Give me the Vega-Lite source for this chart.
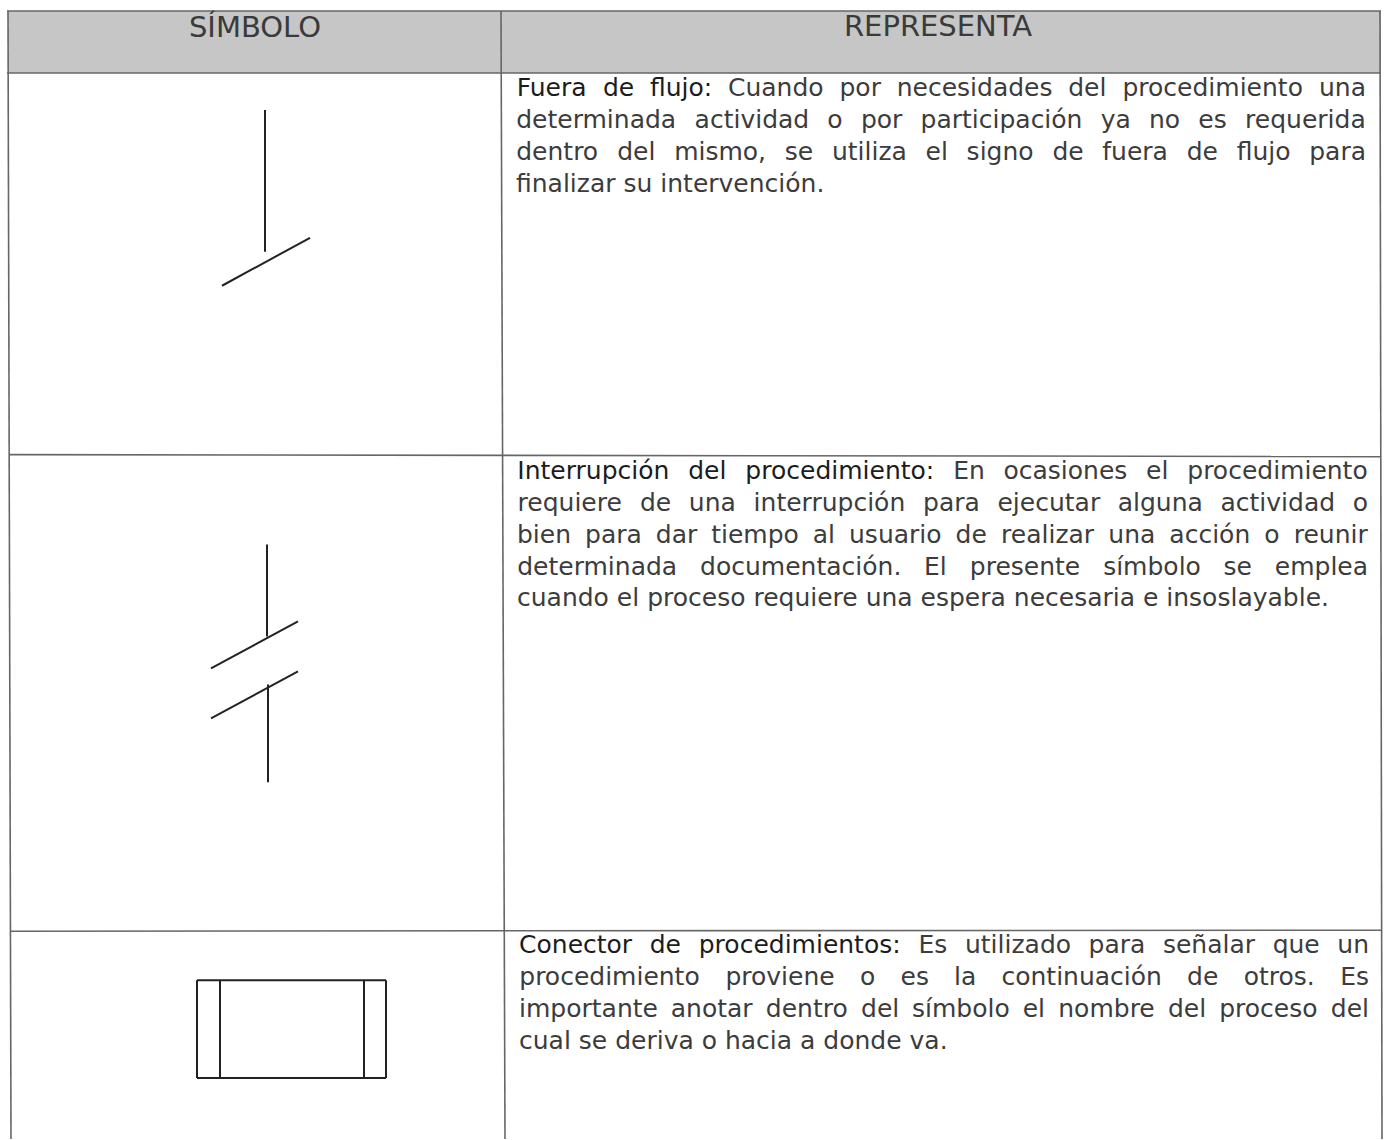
{
  "$schema": "https://vega.github.io/schema/vega-lite/v6.json",
  "width": 1390,
  "height": 1140,
  "autosize": {"type": "fit", "contains": "padding"},
  "padding": 0,
  "background": "white",
  "config": {"view": {"stroke": null}},
  "datasets": {
    "header": [{"x": 8, "x2": 1381, "y": 11, "y2": 73}],
    "grid": [
      {"x": 7, "y": 11, "x2": 1381, "y2": 11},
      {"x": 7, "y": 73, "x2": 1381, "y2": 73},
      {"x": 9, "y": 455, "x2": 1381, "y2": 457},
      {"x": 10, "y": 932, "x2": 1382, "y2": 931},
      {"x": 8, "y": 11, "x2": 11, "y2": 1140},
      {"x": 1380, "y": 11, "x2": 1382, "y2": 1140},
      {"x": 501, "y": 11, "x2": 505, "y2": 1140}
    ],
    "symbols": [
      {"x": 265, "y": 110, "x2": 265, "y2": 252},
      {"x": 222, "y": 286, "x2": 310, "y2": 238},
      {"x": 267, "y": 545, "x2": 267, "y2": 637},
      {"x": 211, "y": 669, "x2": 298, "y2": 622},
      {"x": 211, "y": 719, "x2": 298, "y2": 672},
      {"x": 268, "y": 685, "x2": 268, "y2": 783},
      {"x": 197, "y": 981, "x2": 386, "y2": 981},
      {"x": 197, "y": 1079, "x2": 386, "y2": 1079},
      {"x": 197, "y": 981, "x2": 197, "y2": 1079},
      {"x": 386, "y": 981, "x2": 386, "y2": 1079},
      {"x": 220, "y": 981, "x2": 220, "y2": 1079},
      {"x": 364, "y": 981, "x2": 364, "y2": 1079}
    ],
    "headings": [
      {"x": 255, "y": 28, "t": "SÍMBOLO"},
      {"x": 938, "y": 27, "t": "REPRESENTA"}
    ],
    "words": [
      {"x": 551.6, "y": 88, "t": "Fuera", "role": "label"},
      {"x": 618.6, "y": 88, "t": "de", "role": "label"},
      {"x": 681.1, "y": 88, "t": "flujo:", "role": "label"},
      {"x": 775.8, "y": 88, "t": "Cuando", "role": "body"},
      {"x": 860.2, "y": 88, "t": "por", "role": "body"},
      {"x": 974.6, "y": 88, "t": "necesidades", "role": "body"},
      {"x": 1087.3, "y": 88, "t": "del", "role": "body"},
      {"x": 1212.7, "y": 88, "t": "procedimiento", "role": "body"},
      {"x": 1342.5, "y": 88, "t": "una", "role": "body"},
      {"x": 596.2, "y": 120, "t": "determinada", "role": "body"},
      {"x": 751.9, "y": 120, "t": "actividad", "role": "body"},
      {"x": 835.0, "y": 120, "t": "o", "role": "body"},
      {"x": 881.6, "y": 120, "t": "por", "role": "body"},
      {"x": 1001.5, "y": 120, "t": "participación", "role": "body"},
      {"x": 1115.7, "y": 120, "t": "ya", "role": "body"},
      {"x": 1164.5, "y": 120, "t": "no", "role": "body"},
      {"x": 1212.5, "y": 120, "t": "es", "role": "body"},
      {"x": 1305.4, "y": 120, "t": "requerida", "role": "body"},
      {"x": 557.2, "y": 152, "t": "dentro", "role": "body"},
      {"x": 636.3, "y": 152, "t": "del", "role": "body"},
      {"x": 720.1, "y": 152, "t": "mismo,", "role": "body"},
      {"x": 799.0, "y": 152, "t": "se", "role": "body"},
      {"x": 869.4, "y": 152, "t": "utiliza", "role": "body"},
      {"x": 936.7, "y": 152, "t": "el", "role": "body"},
      {"x": 1000.1, "y": 152, "t": "signo", "role": "body"},
      {"x": 1068.0, "y": 152, "t": "de", "role": "body"},
      {"x": 1135.1, "y": 152, "t": "fuera", "role": "body"},
      {"x": 1202.3, "y": 152, "t": "de", "role": "body"},
      {"x": 1263.6, "y": 152, "t": "flujo", "role": "body"},
      {"x": 1337.6, "y": 152, "t": "para", "role": "body"},
      {"x": 593.3, "y": 471, "t": "Interrupción", "role": "label"},
      {"x": 707.3, "y": 471, "t": "del", "role": "label"},
      {"x": 839.8, "y": 471, "t": "procedimiento:", "role": "label"},
      {"x": 969.0, "y": 471, "t": "En", "role": "body"},
      {"x": 1065.4, "y": 471, "t": "ocasiones", "role": "body"},
      {"x": 1157.2, "y": 471, "t": "el", "role": "body"},
      {"x": 1277.5, "y": 471, "t": "procedimiento", "role": "body"},
      {"x": 569.7, "y": 503, "t": "requiere", "role": "body"},
      {"x": 655.6, "y": 503, "t": "de", "role": "body"},
      {"x": 712.3, "y": 503, "t": "una", "role": "body"},
      {"x": 829.4, "y": 503, "t": "interrupción", "role": "body"},
      {"x": 951.5, "y": 503, "t": "para", "role": "body"},
      {"x": 1048.8, "y": 503, "t": "ejecutar", "role": "body"},
      {"x": 1160.3, "y": 503, "t": "alguna", "role": "body"},
      {"x": 1277.8, "y": 503, "t": "actividad", "role": "body"},
      {"x": 1360.4, "y": 503, "t": "o", "role": "body"},
      {"x": 544.0, "y": 535, "t": "bien", "role": "body"},
      {"x": 613.4, "y": 535, "t": "para", "role": "body"},
      {"x": 676.5, "y": 535, "t": "dar", "role": "body"},
      {"x": 755.0, "y": 535, "t": "tiempo", "role": "body"},
      {"x": 823.9, "y": 535, "t": "al", "role": "body"},
      {"x": 895.3, "y": 535, "t": "usuario", "role": "body"},
      {"x": 971.2, "y": 535, "t": "de", "role": "body"},
      {"x": 1047.6, "y": 535, "t": "realizar", "role": "body"},
      {"x": 1131.8, "y": 535, "t": "una", "role": "body"},
      {"x": 1209.8, "y": 535, "t": "acción", "role": "body"},
      {"x": 1271.8, "y": 535, "t": "o", "role": "body"},
      {"x": 1330.7, "y": 535, "t": "reunir", "role": "body"},
      {"x": 597.2, "y": 567, "t": "determinada", "role": "body"},
      {"x": 800.7, "y": 567, "t": "documentación.", "role": "body"},
      {"x": 935.4, "y": 567, "t": "El", "role": "body"},
      {"x": 1025.0, "y": 567, "t": "presente", "role": "body"},
      {"x": 1152.0, "y": 567, "t": "símbolo", "role": "body"},
      {"x": 1237.8, "y": 567, "t": "se", "role": "body"},
      {"x": 1321.4, "y": 567, "t": "emplea", "role": "body"},
      {"x": 575.6, "y": 946, "t": "Conector", "role": "label"},
      {"x": 665.3, "y": 946, "t": "de", "role": "label"},
      {"x": 799.7, "y": 946, "t": "procedimientos:", "role": "label"},
      {"x": 932.9, "y": 946, "t": "Es", "role": "body"},
      {"x": 1018.0, "y": 946, "t": "utilizado", "role": "body"},
      {"x": 1117.0, "y": 946, "t": "para", "role": "body"},
      {"x": 1209.0, "y": 946, "t": "señalar", "role": "body"},
      {"x": 1296.2, "y": 946, "t": "que", "role": "body"},
      {"x": 1353.2, "y": 946, "t": "un", "role": "body"},
      {"x": 609.5, "y": 978, "t": "procedimiento", "role": "body"},
      {"x": 780.0, "y": 978, "t": "proviene", "role": "body"},
      {"x": 867.7, "y": 978, "t": "o", "role": "body"},
      {"x": 914.7, "y": 978, "t": "es", "role": "body"},
      {"x": 965.1, "y": 978, "t": "la", "role": "body"},
      {"x": 1081.7, "y": 978, "t": "continuación", "role": "body"},
      {"x": 1202.7, "y": 978, "t": "de", "role": "body"},
      {"x": 1279.2, "y": 978, "t": "otros.", "role": "body"},
      {"x": 1354.6, "y": 978, "t": "Es", "role": "body"},
      {"x": 588.5, "y": 1010, "t": "importante", "role": "body"},
      {"x": 711.7, "y": 1010, "t": "anotar", "role": "body"},
      {"x": 806.8, "y": 1010, "t": "dentro", "role": "body"},
      {"x": 880.1, "y": 1010, "t": "del", "role": "body"},
      {"x": 960.9, "y": 1010, "t": "símbolo", "role": "body"},
      {"x": 1033.9, "y": 1010, "t": "el", "role": "body"},
      {"x": 1106.5, "y": 1010, "t": "nombre", "role": "body"},
      {"x": 1187.0, "y": 1010, "t": "del", "role": "body"},
      {"x": 1268.4, "y": 1010, "t": "proceso", "role": "body"},
      {"x": 1349.9, "y": 1010, "t": "del", "role": "body"}
    ],
    "lastlines": [
      {"x": 516, "y": 184, "t": "finalizar su intervención.", "role": "body"},
      {"x": 517, "y": 599, "t": "cuando el proceso requiere una espera necesaria e insoslayable.", "role": "body"},
      {"x": 519, "y": 1042, "t": "cual se deriva o hacia a donde va.", "role": "body"}
    ]
  },
  "encoding": {
    "x": {"field": "x", "type": "quantitative", "scale": {"domain": [0, 1390], "nice": false, "zero": false}, "axis": null},
    "y": {"field": "y", "type": "quantitative", "scale": {"domain": [0, 1140], "nice": false, "zero": false, "reverse": true}, "axis": null}
  },
  "layer": [
    {
      "data": {"name": "header"},
      "mark": {"type": "rect", "fill": "#c6c6c6", "stroke": null},
      "encoding": {"x2": {"field": "x2"}, "y2": {"field": "y2"}}
    },
    {
      "data": {"name": "grid"},
      "mark": {"type": "rule", "stroke": "#666666", "strokeWidth": 1.6},
      "encoding": {"x2": {"field": "x2"}, "y2": {"field": "y2"}}
    },
    {
      "data": {"name": "symbols"},
      "mark": {"type": "rule", "stroke": "#222222", "strokeWidth": 2},
      "encoding": {"x2": {"field": "x2"}, "y2": {"field": "y2"}}
    },
    {
      "data": {"name": "headings"},
      "mark": {"type": "text", "font": "DejaVu Sans", "fontSize": 29, "align": "center", "baseline": "middle", "fill": "#3a3a3a"},
      "encoding": {"text": {"field": "t"}}
    },
    {
      "data": {"name": "words"},
      "mark": {"type": "text", "font": "DejaVu Sans", "fontSize": 25, "align": "center", "baseline": "middle"},
      "encoding": {
        "text": {"field": "t"},
        "color": {"field": "role", "type": "nominal", "scale": {"domain": ["label", "body"], "range": ["#1c1c1c", "#3c3c3c"]}, "legend": null}
      }
    },
    {
      "data": {"name": "lastlines"},
      "mark": {"type": "text", "font": "DejaVu Sans", "fontSize": 25, "align": "left", "baseline": "middle"},
      "encoding": {
        "text": {"field": "t"},
        "color": {"field": "role", "type": "nominal", "scale": {"domain": ["label", "body"], "range": ["#1c1c1c", "#3c3c3c"]}, "legend": null}
      }
    }
  ]
}
